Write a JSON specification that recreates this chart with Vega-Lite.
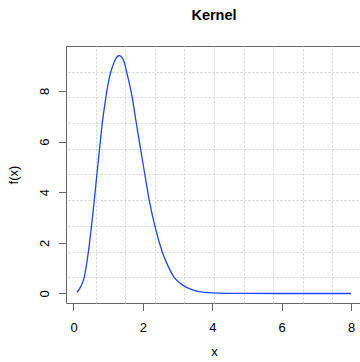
{
  "$schema": "https://vega.github.io/schema/vega-lite/v6.json",
  "width": 296,
  "height": 257,
  "autosize": "none",
  "padding": {"left": 66, "top": 46, "right": 0, "bottom": 59},
  "background": "white",
  "title": {"text": "Kernel", "fontSize": 14.5, "fontWeight": "bold", "font": "Liberation Sans", "color": "black", "anchor": "middle", "baseline": "alphabetic", "offset": 12},
  "config": {
    "font": "Liberation Sans",
    "view": {"stroke": "#666", "strokeWidth": 1}
  },
  "data": {"values": [
    {"x": 0.1, "y": 0.05},
    {"x": 0.2, "y": 0.25},
    {"x": 0.31, "y": 0.64},
    {"x": 0.43, "y": 1.65},
    {"x": 0.52, "y": 2.67},
    {"x": 0.6, "y": 3.69},
    {"x": 0.674, "y": 4.7},
    {"x": 0.752, "y": 5.72},
    {"x": 0.83, "y": 6.73},
    {"x": 0.933, "y": 7.75},
    {"x": 1.0, "y": 8.3},
    {"x": 1.077, "y": 8.76},
    {"x": 1.15, "y": 9.06},
    {"x": 1.22, "y": 9.28},
    {"x": 1.32, "y": 9.4},
    {"x": 1.42, "y": 9.27},
    {"x": 1.48, "y": 9.06},
    {"x": 1.53, "y": 8.76},
    {"x": 1.61, "y": 8.3},
    {"x": 1.693, "y": 7.75},
    {"x": 1.81, "y": 6.73},
    {"x": 1.932, "y": 5.72},
    {"x": 2.056, "y": 4.7},
    {"x": 2.183, "y": 3.69},
    {"x": 2.344, "y": 2.67},
    {"x": 2.557, "y": 1.65},
    {"x": 2.72, "y": 1.1},
    {"x": 2.902, "y": 0.64},
    {"x": 3.05, "y": 0.43},
    {"x": 3.207, "y": 0.28},
    {"x": 3.4, "y": 0.16},
    {"x": 3.593, "y": 0.08},
    {"x": 3.8, "y": 0.04},
    {"x": 4.0, "y": 0.02},
    {"x": 4.5, "y": 0.005},
    {"x": 5.0, "y": 0.001},
    {"x": 6.0, "y": 0},
    {"x": 7.0, "y": 0},
    {"x": 8.0, "y": 0}
  ]},
  "layer": [
    {
      "mark": {"type": "line", "opacity": 0},
      "encoding": {
        "x": {"field": "x", "type": "quantitative", "scale": {"domain": [-0.216, 8.316], "nice": false, "zero": false},
          "axis": {"orient": "top", "values": [0.637, 1.49, 2.344, 3.197, 4.05, 4.903, 5.756, 6.61, 7.463], "grid": true, "gridColor": "#d3d3d3", "gridDash": [2, 2], "gridWidth": 1, "labels": false, "ticks": false, "domain": false, "title": null}},
        "y": {"field": "y", "type": "quantitative", "scale": {"domain": [-0.376, 9.776], "nice": false, "zero": false},
          "axis": {"orient": "right", "values": [0.639, 1.654, 2.67, 3.685, 4.7, 5.715, 6.73, 7.746, 8.761], "grid": true, "gridColor": "#d3d3d3", "gridDash": [2, 2], "gridWidth": 1, "labels": false, "ticks": false, "domain": false, "title": null}}
      }
    },
    {
      "mark": {"type": "line", "color": "#1f45ff", "strokeWidth": 1.3, "interpolate": "monotone"},
      "encoding": {
        "x": {"field": "x", "type": "quantitative",
          "axis": {"orient": "bottom", "values": [0, 2, 4, 6, 8], "grid": false, "domain": false, "ticks": true, "tickSize": 7.5, "tickColor": "#666", "labelFontSize": 13, "labelColor": "black", "labelBaseline": "alphabetic", "labelPadding": 21, "labelFlush": false, "labelOverlap": false, "title": "x", "titleFontSize": 13, "titleFontWeight": "normal", "titleColor": "black", "titleBaseline": "alphabetic", "titleY": 52, "titleX": 148}},
        "y": {"field": "y", "type": "quantitative",
          "axis": {"orient": "left", "values": [0, 2, 4, 6, 8], "grid": false, "domain": false, "ticks": true, "tickSize": 7.5, "tickColor": "#666", "labelFontSize": 13, "labelColor": "black", "labelAngle": 270, "labelAlign": "center", "labelBaseline": "alphabetic", "labelPadding": 10, "labelFlush": false, "labelOverlap": false, "title": "f(x)", "titleFontSize": 13, "titleFontWeight": "normal", "titleColor": "black", "titleAngle": 270, "titleBaseline": "alphabetic", "titleAlign": "center", "titleX": -48.7, "titleY": 128.5}}
      }
    }
  ],
  "resolve": {"axis": {"x": "independent", "y": "independent"}}
}
